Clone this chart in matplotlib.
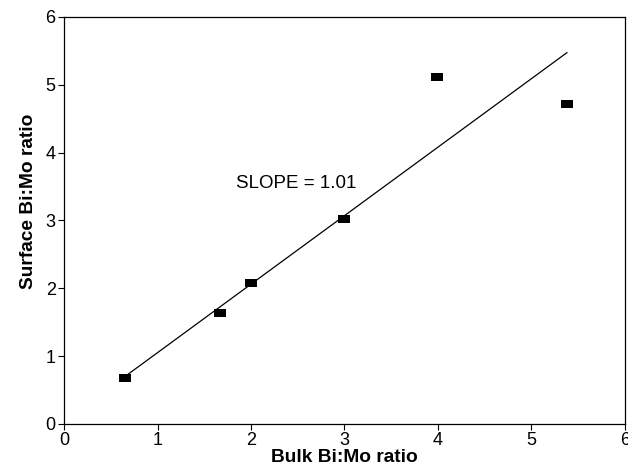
import numpy as np
import matplotlib.pyplot as plt

plt.rcParams['font.family'] = ['Liberation Sans', 'DejaVu Sans']

# Bulk vs surface Bi:Mo ratios
bulk = [0.65, 1.67, 2.0, 3.0, 3.99, 5.38]
surface = [0.67, 1.64, 2.08, 3.02, 5.11, 4.71]

# Linear fit drawn over the data span
slope = 1.01
intercept = 0.04
fit_x = np.array([0.65, 5.38])

fig = plt.figure(figsize=(6.28, 4.72), dpi=100)
ax = fig.add_axes([0.102, 0.102, 0.893, 0.862])

ax.plot(fit_x, slope * fit_x + intercept, color='black', linewidth=0.9)

rect = [(-1.5, -1), (1.5, -1), (1.5, 1), (-1.5, 1), (-1.5, -1)]
ax.plot(bulk, surface, linestyle='none', marker=rect, markersize=9,
        color='black', markeredgewidth=0)

ax.text(1.84, 3.55, 'SLOPE = 1.01', fontsize=13.5, va='center', ha='left')

ax.set_xlim(0, 6)
ax.set_ylim(0, 6)
ax.set_xticks(range(7))
ax.set_yticks(range(7))
ax.tick_params(direction='out', length=4, width=0.8, labelsize=13, pad=2)
for s in ax.spines.values():
    s.set_linewidth(0.9)

ax.set_xlabel('Bulk Bi:Mo ratio', fontsize=13.8, fontweight='bold', labelpad=0)
ax.set_ylabel('Surface Bi:Mo ratio', fontsize=13.8, fontweight='bold')
ax.yaxis.set_label_coords(-0.048, 0.548)

fig.savefig('out.png', dpi=100)
